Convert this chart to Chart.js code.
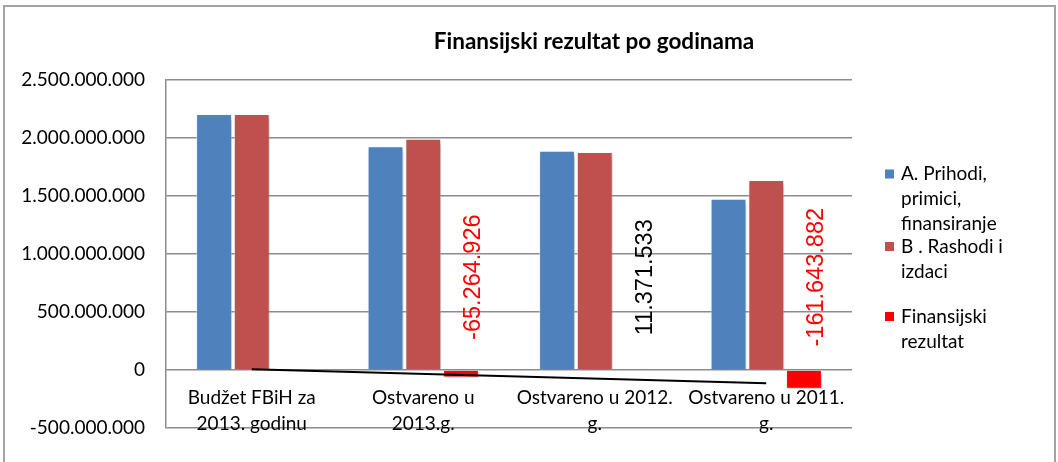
<!DOCTYPE html>
<html>
<head>
<meta charset="utf-8">
<script src="https://cdn.jsdelivr.net/npm/chart.js@4.4.0/dist/chart.umd.min.js"></script>
<style>
  html, body { margin: 0; padding: 0; background: #fff; }
  #wrap { width: 1058px; height: 462px; }
</style>
</head>
<body>
<div id="wrap"><canvas id="chart" width="1058" height="462"></canvas></div>
<script>
// Chart values
const categories = [
    ['Budžet FBiH za', '2013. godinu'],
    ['Ostvareno u', '2013.g.'],
    ['Ostvareno u 2012.', 'g.'],
    ['Ostvareno u 2011.', 'g.']
];
const prihodi = [2207000000, 1928000000, 1891000000, 1477000000];
const rashodi = [2207000000, 1993000000, 1880000000, 1639000000];
const rezultat = [null, -65264926, 11371533, -161643882];
// linear trendline of the result series, end points
const trend = [7000000, null, null, -115000000];

const seriesNames = [
    ['A. Prihodi,', 'primici,', 'finansiranje'],
    ['B . Rashodi i', 'izdaci'],
    ['Finansijski', 'rezultat']
];
const yMin = -500000000;
const yMax = 2500000000;
const yStep = 500000000;

const colors = ['#4F81BD', '#C0504D', '#FF0000'];
const textFont = 'Lato, "Liberation Sans", sans-serif';

function formatNumber(v) {
    const s = String(Math.abs(Math.round(v))).replace(/\B(?=(\d{3})+(?!\d))/g, '.');
    return (v < 0 ? '-' : '') + s;
}

// Outer frame, white background and title
const frame = {
    id: 'frame',
    beforeDraw(chart) {
        const ctx = chart.ctx;
        ctx.save();
        ctx.fillStyle = '#fff';
        ctx.fillRect(0, 0, chart.width, chart.height);
        ctx.strokeStyle = '#A3A3A3';
        ctx.lineWidth = 2;
        ctx.strokeRect(4, 6, 1051, 480);
        ctx.restore();
    },
    afterDraw(chart) {
        const ctx = chart.ctx;
        ctx.save();
        ctx.fillStyle = '#000';
        ctx.font = 'bold 22.5px ' + textFont;
        ctx.textAlign = 'center';
        ctx.textBaseline = 'middle';
        ctx.fillText('Finansijski rezultat po godinama', 594, 42);
        ctx.restore();
    }
};

// Excel-like shadow under the bars
const barShadow = {
    id: 'barShadow',
    beforeDatasetDraw(chart, args) {
        if (args.meta.type !== 'bar') return;
        const ctx = chart.ctx;
        ctx.save();
        ctx.shadowColor = 'rgba(0,0,0,0.3)';
        ctx.shadowBlur = 5;
        ctx.shadowOffsetX = 2;
        ctx.shadowOffsetY = 3;
    },
    afterDatasetDraw(chart, args) {
        if (args.meta.type !== 'bar') return;
        chart.ctx.restore();
    }
};

// Category labels sit below the zero line, like the Excel axis
const categoryLabels = {
    id: 'categoryLabels',
    afterDatasetsDraw(chart) {
        const ctx = chart.ctx;
        const x = chart.scales.x;
        const y0 = chart.scales.y.getPixelForValue(0);
        ctx.save();
        ctx.fillStyle = '#000';
        ctx.font = '19px ' + textFont;
        ctx.textAlign = 'center';
        ctx.textBaseline = 'middle';
        categories.forEach((lines, i) => {
            const cx = x.getPixelForValue(i);
            lines.forEach((line, j) => {
                ctx.fillText(line, cx, y0 + 28 + j * 26);
            });
        });
        ctx.restore();
    }
};

// Rotated value labels of the result series
const resultLabels = {
    id: 'resultLabels',
    afterDatasetsDraw(chart) {
        const ctx = chart.ctx;
        const meta = chart.getDatasetMeta(3);
        const yc = chart.scales.y.getPixelForValue(800000000);
        ctx.save();
        ctx.font = '23.5px "Liberation Sans", Arial, sans-serif';
        ctx.textAlign = 'center';
        ctx.textBaseline = 'middle';
        meta.data.forEach((bar, i) => {
            const v = rezultat[i];
            if (v === null) return;
            ctx.save();
            ctx.translate(bar.x + 13, yc);
            ctx.rotate(-Math.PI / 2);
            ctx.fillStyle = v < 0 ? '#FF0000' : '#000';
            ctx.fillText(formatNumber(v), 0, 0);
            ctx.restore();
        });
        ctx.restore();
    }
};

// Legend at the right, with wrapped lines
const sideLegend = {
    id: 'sideLegend',
    afterDraw(chart) {
        const ctx = chart.ctx;
        const tops = [174, 246.5, 316.5];
        ctx.save();
        ctx.font = '19px ' + textFont;
        ctx.textAlign = 'left';
        ctx.textBaseline = 'middle';
        seriesNames.forEach((lines, i) => {
            ctx.fillStyle = colors[i];
            ctx.fillRect(885, tops[i] - 4.5, 9, 9);
            ctx.fillStyle = '#000';
            lines.forEach((line, j) => {
                ctx.fillText(line, 901, tops[i] + j * 25);
            });
        });
        ctx.restore();
    }
};

const barStyle = {
    categoryPercentage: 0.66,
    barPercentage: 0.95,
    borderWidth: 1,
    borderColor: 'rgba(255,255,255,0.55)'
};

new Chart(document.getElementById('chart'), {
    type: 'bar',
    data: {
        labels: categories.map(c => c.join(' ')),
        datasets: [
            {
                type: 'line',
                label: 'Trend',
                data: trend,
                borderColor: '#000',
                borderWidth: 2,
                pointRadius: 0,
                spanGaps: true,
                fill: false,
                order: -1
            },
            Object.assign({ label: seriesNames[0].join(' '), data: prihodi, backgroundColor: colors[0] }, barStyle),
            Object.assign({ label: seriesNames[1].join(' '), data: rashodi, backgroundColor: colors[1] }, barStyle),
            Object.assign({ label: seriesNames[2].join(' '), data: rezultat, backgroundColor: colors[2] }, barStyle)
        ]
    },
    options: {
        responsive: false,
        animation: false,
        devicePixelRatio: 1,
        layout: { padding: { left: 0, top: 80, right: 206, bottom: 34 } },
        plugins: {
            legend: { display: false },
            tooltip: { enabled: false },
            title: { display: false }
        },
        scales: {
            x: {
                display: false,
                offset: true
            },
            y: {
                min: yMin,
                max: yMax,
                afterFit(scale) { scale.width = 166; },
                grid: {
                    color: '#8C8C8C',
                    lineWidth: 1.5,
                    drawTicks: false
                },
                border: { display: true, color: '#8C8C8C', width: 1.5 },
                ticks: {
                    stepSize: yStep,
                    padding: 21,
                    color: '#000',
                    font: { family: textFont, size: 19 },
                    callback: v => formatNumber(v)
                }
            }
        }
    },
    plugins: [frame, barShadow, categoryLabels, resultLabels, sideLegend]
});
</script>
</body>
</html>
